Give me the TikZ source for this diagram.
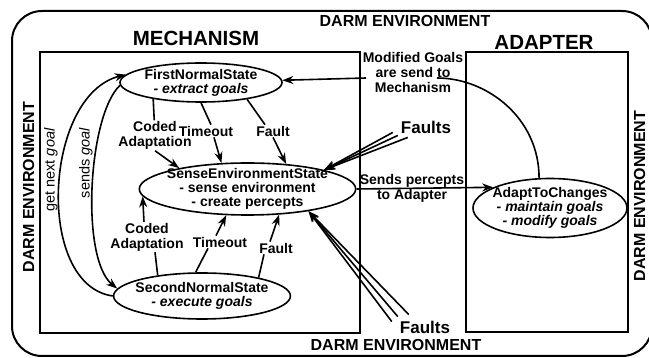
\documentclass[tikz,border=0pt]{standalone}
\usepackage{fontspec}
\setmainfont{Liberation Sans}
\usepackage{tikz}
\usetikzlibrary{arrows.meta,shapes.geometric,positioning}

\newcommand{\statefont}{\fontsize{14}{14}\selectfont\bfseries}
\newcommand{\lblfont}{\fontsize{14}{15}\selectfont\bfseries}
\newcommand{\ttlfont}{\fontsize{20.5}{24}\selectfont\bfseries}
\newcommand{\envfont}{\fontsize{16}{18}\selectfont\bfseries}
\newcommand{\faultfont}{\fontsize{17}{19}\selectfont\bfseries}
\newcommand{\goalfont}{\fontsize{14.5}{16}\selectfont}

\begin{document}
\begin{tikzpicture}[x=1pt,y=-1pt,
    state/.style={ellipse, draw, line width=1.6pt, inner sep=0pt, inner xsep=-4pt, inner ysep=-8pt, align=center, font=\statefont},
    lbl/.style={align=center, inner sep=1pt, font=\lblfont},
    env/.style={inner sep=0pt, font=\envfont},
    ttl/.style={inner sep=0pt, font=\ttlfont},
    link/.style={line width=1.6pt},
    flow/.style={line width=1.6pt, -{Stealth[length=11pt,width=8pt]}}]
			\useasboundingbox (0,0) rectangle (649,358);
			\draw[line width=2pt, rounded corners=30pt] (12,11) rectangle (652,356);
			\draw[line width=2pt] (40,52) rectangle (360,333);
			\draw[line width=2pt] (466,52) rectangle (628,332);

			\node[ttl] (mech) at (196,38.5) {MECHANISM};
			\node[ttl] (adp) at (544,42) {ADAPTER};
			\node[env] (envT) at (405,21) {DARM ENVIRONMENT};
			\node[env] (envB) at (396,345) {DARM ENVIRONMENT};
			\node[env, rotate=90] (envL) at (28.5,187) {DARM ENVIRONMENT};
			\node[env, rotate=90] (envR) at (639.5,196) {DARM ENVIRONMENT};

			\node[state, minimum width=162pt, minimum height=39pt] (fns) at (201,82.5) {FirstNormalState\\\textit{- extract goals}};
			\node[state, minimum width=211pt, minimum height=52pt] (sense) at (247.5,189) {SenseEnvironmentState\\- sense environment\\- create percepts};
			\node[state, minimum width=158pt, minimum height=46pt] (snd) at (202,296) {SecondNormalState\\\textit{- execute goals}};
			\node[state, minimum width=154pt, minimum height=59pt] (adapt) at (550,208) {AdaptToChanges\\\textit{- maintain goals}\\\textit{- modify goals}};

			\node[lbl] (mod) at (413,72) {Modified Goals\\are send to\\Mechanism};
			\coordinate (modR) at (437,78);
			\coordinate (modL) at (366,78);
			\draw[link] (adapt.110) .. controls +(0,-60) and +(50,0) .. (modR);
			\draw[flow] (modL) -- (fns);

			\node[lbl] (perc) at (412,188) {Sends percepts\\to Adapter};
			\draw[flow] (sense.east) -- (adapt.160);

			\node[inner sep=1pt, font=\faultfont] (faultsA) at (426,127) {Faults};
			\node[inner sep=1pt, font=\faultfont] (faultsB) at (425,327) {Faults};
			\foreach \dx/\dy in {-7/2, -2/-1, 8/-3}
				\draw[flow] ([xshift=\dx pt, yshift=\dy pt]faultsA.south west) -- (sense.14);
			\foreach \dx/\dy in {-7/-2, -1/3, 10/5}
				\draw[flow] ([xshift=\dx pt, yshift=\dy pt]faultsB.north west) -- (sense.-20);

			\node[lbl] (codA) at (155,135.5) {Coded\\Adaptation};
			\node[lbl] (toA) at (206,131) {Timeout};
			\node[lbl] (fltA) at (273,131) {Fault};
			\draw[link] (fns.199) -- (codA);
			\draw[flow] (codA.south) -- (sense.163);
			\draw[link] (fns.south) -- ([xshift=5pt]toA.north);
			\draw[flow] ([xshift=8pt]toA.south) -- (sense.135);
			\draw[link] (fns.-20) -- ([xshift=-8pt]fltA.north);
			\draw[flow] (fltA.south) -- (sense.33);

			\node[lbl] (codB) at (147,237) {Coded\\Adaptation};
			\node[lbl] (toB) at (220,242) {Timeout};
			\node[lbl] (fltB) at (276,248) {Fault};
			\draw[link] (snd.155) -- ([xshift=8pt]codB.south);
			\draw[flow] ([xshift=-3pt]codB.north) -- (sense.184);
			\draw[link] (snd.105) -- ([xshift=-12pt]toB.south);
			\draw[flow] ([xshift=-4pt]toB.north) -- (sense.231);
			\draw[link] (snd.18) -- ([xshift=-12pt]fltB.south);
			\draw[flow] ([xshift=-6pt]fltB.north) -- (sense.-39);

			\draw[flow] (snd.west) .. controls +(-78,-11) and +(-82,21) .. (fns.174);
			\draw[flow] (fns.182) .. controls +(-32,30) and +(-37,-30) .. (snd.175);
			\node[rotate=90, font=\goalfont] (getG) at (51,170) {get next \textit{goal}};
			\node[rotate=90, font=\goalfont] (sndG) at (86,163) {sends \textit{goal}};
		    \end{tikzpicture}
\end{document}
